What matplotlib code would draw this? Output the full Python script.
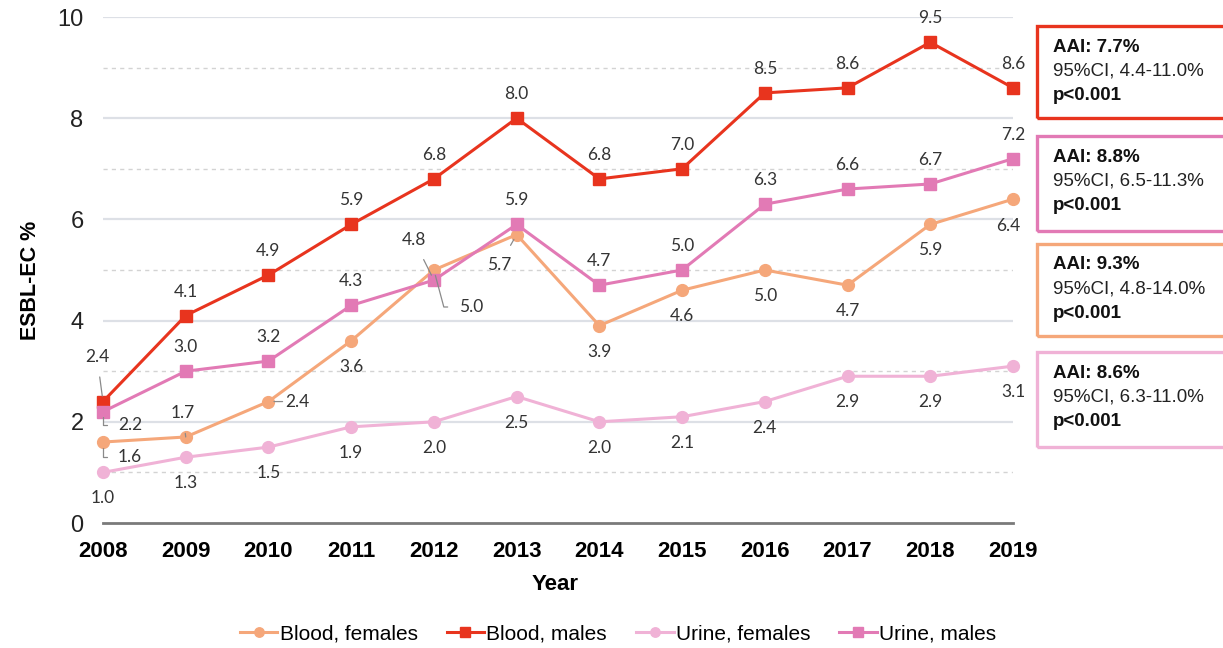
import matplotlib
matplotlib.use("Agg")
import matplotlib.pyplot as plt
from matplotlib.patches import Rectangle
from matplotlib.ticker import MultipleLocator

# ---------------- data ----------------
years = [2008, 2009, 2010, 2011, 2012, 2013, 2014, 2015, 2016, 2017, 2018, 2019]
blood_females = [1.6, 1.7, 2.4, 3.6, 5.0, 5.7, 3.9, 4.6, 5.0, 4.7, 5.9, 6.4]
blood_males = [2.4, 4.1, 4.9, 5.9, 6.8, 8.0, 6.8, 7.0, 8.5, 8.6, 9.5, 8.6]
urine_females = [1.0, 1.3, 1.5, 1.9, 2.0, 2.5, 2.0, 2.1, 2.4, 2.9, 2.9, 3.1]
urine_males = [2.2, 3.0, 3.2, 4.3, 4.8, 5.9, 4.7, 5.0, 6.3, 6.6, 6.7, 7.2]
series_names = ["Blood, females", "Blood, males", "Urine, females", "Urine, males"]
aai_titles = ["AAI: 7.7%", "AAI: 8.8%", "AAI: 9.3%", "AAI: 8.6%"]
aai_ci = ["95%CI, 4.4-11.0%", "95%CI, 6.5-11.3%", "95%CI, 4.8-14.0%", "95%CI, 6.3-11.0%"]
aai_p = ["p<0.001", "p<0.001", "p<0.001", "p<0.001"]

# ---------------- style ----------------
C_BF = "#F5A77A"
C_BM = "#E8341E"
C_UF = "#F0B2D6"
C_UM = "#E27AB5"
LBL = "#333333"
LEAD = "#8a8a8a"
SANS = ["Liberation Sans", "DejaVu Sans"]
LABF = ["Lato", "DejaVu Sans"]

W, H = 1223, 648
fig = plt.figure(figsize=(W / 100, H / 100), dpi=100)
ax = fig.add_axes([103 / W, 1 - 523 / H, (1013 - 103) / W, (523 - 17) / H])

ax.set_xlim(2008, 2019)
ax.set_ylim(0, 10)
ax.yaxis.set_major_locator(MultipleLocator(2))
ax.yaxis.set_minor_locator(MultipleLocator(1))
ax.set_xticks(years)
for s in ["top", "right", "left"]:
    ax.spines[s].set_visible(False)
ax.spines["bottom"].set_color("#7a7a7a")
ax.spines["bottom"].set_linewidth(2.0)
ax.tick_params(axis="both", which="both", length=0)
ax.tick_params(axis="y", pad=14, labelsize=17, labelcolor="#222222")
ax.tick_params(axis="x", pad=13, labelsize=16)
for t in ax.get_yticklabels():
    t.set_fontfamily(SANS)
for t in ax.get_xticklabels():
    t.set_fontfamily(SANS)
    t.set_fontweight("bold")

# grid: solid at even, dashed at odd
for v in range(2, 11, 2):
    ax.axhline(v, color="#DDE0E6", lw=1.6, zorder=0)
for v in range(1, 10, 2):
    ax.axhline(v, color="#D3D3D3", lw=1.0, ls=(0, (3, 3)), zorder=0)

series = [
    (blood_females, C_BF, "o"),
    (blood_males, C_BM, "s"),
    (urine_females, C_UF, "o"),
    (urine_males, C_UM, "s"),
]
handles = []
for (vals, col, mk), name in zip(series, series_names):
    (h,) = ax.plot(years, vals, color=col, lw=2.2, marker=mk, ms=8.5,
                   markeredgecolor=col, clip_on=False, zorder=3, label=name)
    handles.append(h)

# ---------------- data labels (offsets in pixels, dy positive = up) ----------------
def label(vals, offsets, default, leaders):
    for i, (x, v) in enumerate(zip(years, vals)):
        dx, dy = offsets.get(i, default)
        kw = {}
        if i in leaders:
            kw["arrowprops"] = dict(arrowstyle="-", color=LEAD, lw=0.9,
                                    shrinkA=leaders[i][1], shrinkB=4,
                                    connectionstyle=leaders[i][0])
        ax.annotate(f"{v:.1f}", (x, v), xytext=(dx * 0.72, dy * 0.72),
                    textcoords="offset points", ha="center", va="center",
                    fontsize=12.5, color=LBL, family=LABF, zorder=5,
                    annotation_clip=False, **kw)

label(blood_males, {0: (-6, 45)}, (0, 24), {0: ("arc3", 7)})
label(urine_males, {0: (27, -13), 4: (-20, 40)}, (0, 24),
      {0: ("angle,angleA=0,angleB=90,rad=0", 6), 4: ("arc3", 7)})
label(blood_females, {0: (27, -15), 1: (-3, 24), 2: (29, 0), 4: (37, -37),
                      5: (-17, -30), 10: (0, -26), 11: (-5, -27)},
      (0, -26),
      {0: ("angle,angleA=0,angleB=90,rad=0", 6), 1: ("arc3", 7),
       2: ("arc3", 12), 4: ("angle,angleA=0,angleB=-75,rad=0", 6),
       5: ("arc3", 7)})
label(urine_females, {}, (0, -26), {})

# ---------------- axis titles ----------------
fig.text(30 / W, 1 - 280 / H, "ESBL-EC %", rotation=90, ha="center", va="center",
         fontsize=15.5, fontweight="bold", family=SANS)
fig.text(555 / W, 1 - 585 / H, "Year", ha="center", va="center",
         fontsize=16, fontweight="bold", family=SANS)

# ---------------- AAI boxes ----------------
box_cols = [C_BM, C_UM, C_BF, C_UF]
box_tops = [26, 136, 244, 352]
box_h = [92, 95, 92, 95]
for title, ci, p, col, top, hh in zip(aai_titles, aai_ci, aai_p, box_cols, box_tops, box_h):
    r = Rectangle((1037 / W, 1 - (top + hh) / H), 0.3, hh / H, transform=fig.transFigure,
                  fill=False, edgecolor=col, lw=2.4, clip_on=False)
    fig.patches.append(r)
    fig.text(1053 / W, 1 - (top + 21) / H, title, fontsize=13.5, fontweight="bold",
             family=SANS, va="center", ha="left", color="#111111")
    fig.text(1053 / W, 1 - (top + 45) / H, ci, fontsize=13.5, family=SANS,
             va="center", ha="left", color="#222222")
    fig.text(1053 / W, 1 - (top + 69) / H, p, fontsize=13.5, fontweight="bold",
             family=SANS, va="center", ha="left", color="#111111")

# ---------------- legend ----------------
leg = fig.legend(handles=handles, loc="center", bbox_to_anchor=(618 / W, 1 - 634 / H),
                 ncol=4, frameon=False, handlelength=1.8, handletextpad=0.1,
                 columnspacing=1.4, markerscale=0.8,
                 prop={"family": SANS, "size": 15})

fig.savefig("out.png", dpi=100)
